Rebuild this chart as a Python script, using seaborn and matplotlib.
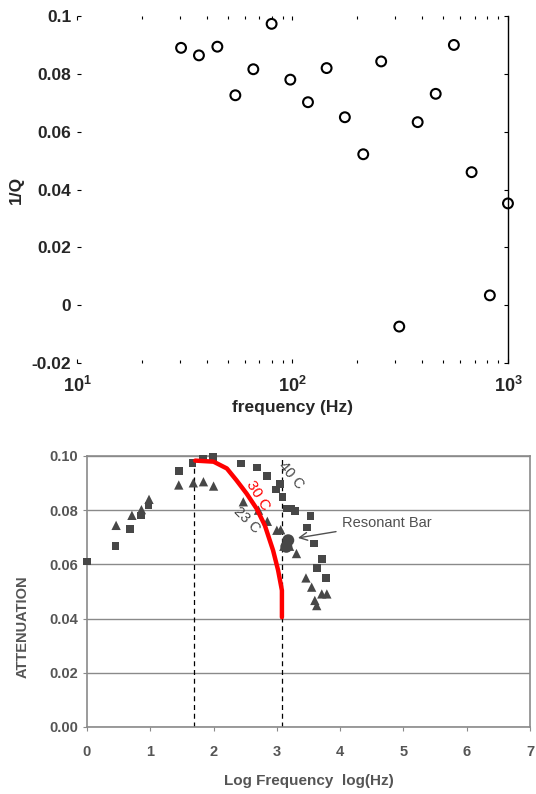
import matplotlib
matplotlib.use("Agg")
import matplotlib.pyplot as plt
import seaborn as sns
import numpy as np
import pandas as pd

# top panel: 1/Q vs frequency
freq = [30.4, 36.8, 44.8, 54.3, 65.8, 80.0, 97.7, 118, 144, 175, 213,
        258, 313, 381, 462, 561, 678, 824, 1000]
inv_q = [0.0890, 0.0864, 0.0894, 0.0726, 0.0816, 0.0973, 0.0780, 0.0702,
         0.0820, 0.0650, 0.0522, 0.0843, -0.0074, 0.0633, 0.0731, 0.0900,
         0.0460, 0.0034, 0.0352]

# bottom panel: attenuation vs log frequency
sq_x = [0.0, 0.45, 0.68, 0.85, 0.97, 1.45, 1.67, 1.83, 1.99, 2.43, 2.69, 2.84,
        2.99, 3.05, 3.09, 3.16, 3.23, 3.29, 3.53, 3.48, 3.59, 3.71, 3.63, 3.78]
sq_y = [0.061, 0.0668, 0.073, 0.078, 0.0818, 0.0944, 0.0975, 0.099, 0.0997,
        0.0973, 0.0958, 0.0926, 0.0877, 0.0896, 0.0849, 0.0806, 0.0806, 0.0797,
        0.0778, 0.0736, 0.0677, 0.062, 0.0586, 0.055]
tri_x = [0.46, 0.71, 0.86, 0.98, 1.45, 1.68, 1.84, 2.0, 2.47, 2.71, 2.85, 3.0,
         3.06, 3.11, 3.2, 3.31, 3.46, 3.55, 3.71, 3.79, 3.6, 3.63]
tri_y = [0.0744, 0.0781, 0.0802, 0.084, 0.0893, 0.0901, 0.0905, 0.0889, 0.0831,
         0.080, 0.0759, 0.0726, 0.0728, 0.0667, 0.0667, 0.064, 0.055, 0.0516,
         0.0491, 0.0491, 0.0467, 0.0448]
bar_x = [3.18, 3.15]
bar_y = [0.0689, 0.0665]
curve_x = [1.71, 2.0, 2.21, 2.36, 2.52, 2.68, 2.81, 2.94, 3.02, 3.08, 3.08]
curve_y = [0.0983, 0.0979, 0.0954, 0.0911, 0.0862, 0.0806, 0.0744, 0.0652,
           0.0578, 0.0504, 0.0405]
vlines = [1.69, 3.08]

sns.set_style("white")
plt.rcParams['font.family'] = ['Liberation Sans', 'DejaVu Sans']
plt.rcParams['mathtext.fontset'] = 'custom'
plt.rcParams['mathtext.bf'] = 'Liberation Sans:bold'
plt.rcParams['mathtext.rm'] = 'Liberation Sans:bold'

fig = plt.figure(figsize=(5.36, 7.94), dpi=100)

##################### top panel
ax1 = fig.add_axes([0.1437, 0.5428, 0.804, 0.437])
sns.scatterplot(x=freq, y=inv_q, ax=ax1, marker='o', s=50,
                facecolor='none', edgecolor='black', linewidth=1.5, clip_on=False)
ax1.set_xscale('log')
ax1.set_xlim(10, 1000)
ax1.set_ylim(-0.02, 0.1)
ax1.set_yticks([-0.02, 0, 0.02, 0.04, 0.06, 0.08, 0.1])
ax1.set_yticklabels(['-0.02', '0', '0.02', '0.04', '0.06', '0.08', '0.1'],
                    fontweight='bold', fontsize=12.5)
ax1.set_xticks([10, 100, 1000])
ax1.set_xticklabels([r'$\mathbf{10^{1}}$', r'$\mathbf{10^{2}}$', r'$\mathbf{10^{3}}$'],
                    fontsize=13)
for s in ['left', 'top', 'bottom']:
    ax1.spines[s].set_visible(False)
ax1.spines['right'].set_color('black')
ax1.spines['right'].set_linewidth(1.0)
ax1.tick_params(axis='both', which='both', direction='in', top=True, bottom=True,
                left=True, right=True, color='black', width=0.8)
ax1.tick_params(axis='x', which='major', length=3, pad=9)
ax1.tick_params(axis='x', which='minor', length=2)
ax1.tick_params(axis='y', length=3, pad=4)
ax1.set_ylabel('1/Q', fontweight='bold', fontsize=12.5, labelpad=6)
ax1.set_xlabel('frequency (Hz)', fontweight='bold', fontsize=12.5, labelpad=3)

##################### bottom panel
grey = '#555555'
ax2 = fig.add_axes([0.1623, 0.0844, 0.8265, 0.3413])
ax2.set_facecolor('white')
for v in vlines:
    ax2.axvline(v, ymin=0, ymax=1, color='black', linestyle=(0, (4, 3)),
                linewidth=0.9, zorder=1)
sns.scatterplot(x=sq_x, y=sq_y, ax=ax2, marker='s', s=30, color='#474747',
                edgecolor='none', zorder=3, clip_on=False)
sns.scatterplot(x=tri_x, y=tri_y, ax=ax2, marker='^', s=45, color='#474747',
                edgecolor='none', zorder=3, clip_on=False)
sns.scatterplot(x=bar_x, y=bar_y, ax=ax2, marker='o', s=75, color='#474747',
                edgecolor='none', zorder=3)
sns.lineplot(x=curve_x, y=curve_y, ax=ax2, color='red', linewidth=3.2,
             sort=False, estimator=None, zorder=4)
ax2.set_xlim(0, 7)
ax2.set_ylim(0, 0.1)
ax2.set_xticks(range(8))
ax2.set_yticks([0, 0.02, 0.04, 0.06, 0.08, 0.10])
ax2.set_yticklabels(['0.00', '0.02', '0.04', '0.06', '0.08', '0.10'])
ax2.yaxis.grid(True, color='#8a8a8a', linewidth=1.0)
ax2.set_axisbelow(True)
for s in ax2.spines.values():
    s.set_color('#8a8a8a')
    s.set_linewidth(1.2)
ax2.tick_params(axis='both', direction='out', length=3, color='#8a8a8a',
                labelcolor=grey, labelsize=10.5, bottom=True, left=True)
ax2.tick_params(axis='x', pad=10)
for lab in ax2.get_xticklabels() + ax2.get_yticklabels():
    lab.set_fontweight('bold')
ax2.set_xlabel('Log Frequency  log(Hz)', color=grey, fontsize=11,
               fontweight='bold', labelpad=11)
ax2.set_ylabel('ATTENUATION', color=grey, fontsize=10.5, fontweight='bold')
ax2.yaxis.set_label_coords(-0.129, 0.37)

ax2.text(2.70, 0.0855, '30 C', color='red', fontsize=11, rotation=-58,
         ha='center', va='center')
ax2.text(3.23, 0.093, '40 C', color='#444444', fontsize=10.5, rotation=-50,
         ha='center', va='center')
ax2.text(2.52, 0.0763, '23 C', color='#444444', fontsize=10.5, rotation=-45,
         ha='center', va='center')
ax2.annotate('Resonant Bar', xy=(3.29, 0.0696), xytext=(4.03, 0.0752),
             color='#505050', fontsize=10.5, va='center', ha='left',
             arrowprops=dict(arrowstyle='->', color='#505050', lw=1.0,
                             mutation_scale=14))

fig.savefig('out.png', dpi=100)
